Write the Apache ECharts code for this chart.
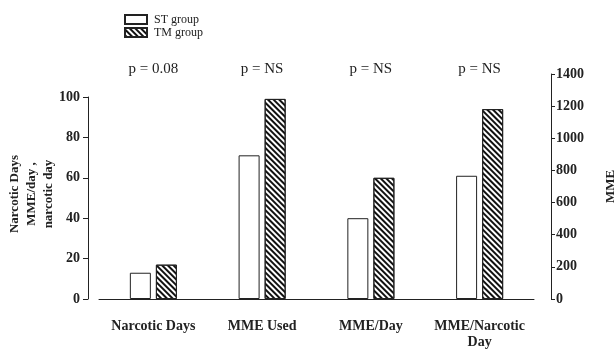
<!DOCTYPE html>
<html>
<head>
<meta charset="utf-8">
<script src="https://cdn.jsdelivr.net/npm/echarts@6/dist/echarts.min.js"></script>
<style>html,body{margin:0;padding:0;background:#fff}#c{width:616px;height:349px}</style>
</head>
<body>
<div id="c"></div>
<script>
var categories = ['Narcotic Days', 'MME Used', 'MME/Day', 'MME/Narcotic\nDay'];
var pValues = ['p = 0.08', 'p = NS', 'p = NS', 'p = NS'];
// left axis (days, MME/day) values
var stLeft = [13, '-', 40, 61];
var tmLeft = [17, '-', 60, 94];
// right axis (MME) values
var stRight = ['-', 894, '-', '-'];
var tmRight = ['-', 1245, '-', '-'];
var leftTicks = [0, 20, 40, 60, 80, 100];
var rightTicks = [0, 200, 400, 600, 800, 1000, 1200, 1400];

var FONT = '"Liberation Serif", "DejaVu Serif", serif';
var INK = '#222';
var hatch = {
  symbol: 'rect',
  color: '#111',
  dashArrayX: [1, 0],
  dashArrayY: [2, 1.4],
  rotation: Math.PI / 4
};
var stStyle = { color: '#fff', borderColor: INK, borderWidth: 1 };
var tmStyle = { color: '#fff', borderColor: INK, borderWidth: 1, decal: hatch };

var chart = echarts.init(document.getElementById('c'), null, { renderer: 'canvas' });
chart.setOption({
  animation: false,
  backgroundColor: '#fff',
  textStyle: { fontFamily: FONT, color: INK },
  legend: {
    data: ['ST group', 'TM group'],
    orient: 'vertical',
    left: 119, top: 8,
    itemWidth: 22, itemHeight: 9, itemGap: 0,
    icon: 'rect',
    selectedMode: false,
    textStyle: { fontFamily: FONT, fontSize: 12, color: INK, lineHeight: 13, padding: [0, 0, 0, 2] }
  },
  grid: [
    { left: 99, right: 82, top: 97, bottom: 50, outerBoundsMode: 'none', containLabel: false },
    { left: 99, right: 82, top: 74, bottom: 50, outerBoundsMode: 'none', containLabel: false }
  ],
  xAxis: [
    {
      gridIndex: 0, type: 'category', data: categories,
      axisLine: { lineStyle: { color: INK, width: 1 } },
      axisTick: { show: false },
      axisLabel: { fontFamily: FONT, fontSize: 14, fontWeight: 'bold', color: INK, margin: 19, lineHeight: 16, interval: 0 }
    },
    {
      gridIndex: 1, type: 'category', data: pValues, position: 'top',
      axisLine: { show: false }, axisTick: { show: false },
      axisLabel: { fontFamily: FONT, fontSize: 15, color: INK, margin: -3, interval: 0 }
    }
  ],
  yAxis: [
    {
      gridIndex: 0, type: 'value', min: 0, max: 100, interval: 20, offset: 11,
      name: 'Narcotic Days\nMME/day ,\nnarcotic day',
      nameLocation: 'middle', nameRotate: 90, nameGap: 31, nameMoveOverlap: false,
      nameTextStyle: { fontFamily: FONT, fontSize: 13, fontWeight: 'bold', color: INK, lineHeight: 17, padding: [0, 0, 0, 8] },
      axisLine: { show: true, lineStyle: { color: INK, width: 1 } },
      axisTick: { show: true, length: 5, lineStyle: { color: INK } },
      axisLabel: { fontFamily: FONT, fontSize: 14, fontWeight: 'bold', color: INK, margin: 8,
        formatter: function (v) { return leftTicks.indexOf(v) >= 0 ? String(v) : ''; } },
      splitLine: { show: false }
    },
    {
      gridIndex: 1, type: 'value', position: 'right', min: 0, max: 1400, interval: 200, offset: 17,
      name: 'MME', nameLocation: 'middle', nameRotate: 90, nameGap: 53,
      nameTextStyle: { fontFamily: FONT, fontSize: 13, fontWeight: 'bold', color: INK },
      axisLine: { show: true, lineStyle: { color: INK, width: 1 } },
      axisTick: { show: true, length: 4, lineStyle: { color: INK } },
      axisLabel: { fontFamily: FONT, fontSize: 14, fontWeight: 'bold', color: INK, margin: 5,
        formatter: function (v) { return rightTicks.indexOf(v) >= 0 ? String(v) : ''; } },
      splitLine: { show: false }
    }
  ],
  series: [
    { name: 'ST group', type: 'bar', xAxisIndex: 0, yAxisIndex: 0, data: stLeft, barWidth: 21, barGap: '24%', itemStyle: stStyle },
    { name: 'TM group', type: 'bar', xAxisIndex: 0, yAxisIndex: 0, data: tmLeft, barWidth: 21, barGap: '24%', itemStyle: tmStyle },
    { name: 'ST group', type: 'bar', xAxisIndex: 1, yAxisIndex: 1, data: stRight, barWidth: 21, barGap: '24%', itemStyle: stStyle },
    { name: 'TM group', type: 'bar', xAxisIndex: 1, yAxisIndex: 1, data: tmRight, barWidth: 21, barGap: '24%', itemStyle: tmStyle }
  ]
});
</script>
</body>
</html>
